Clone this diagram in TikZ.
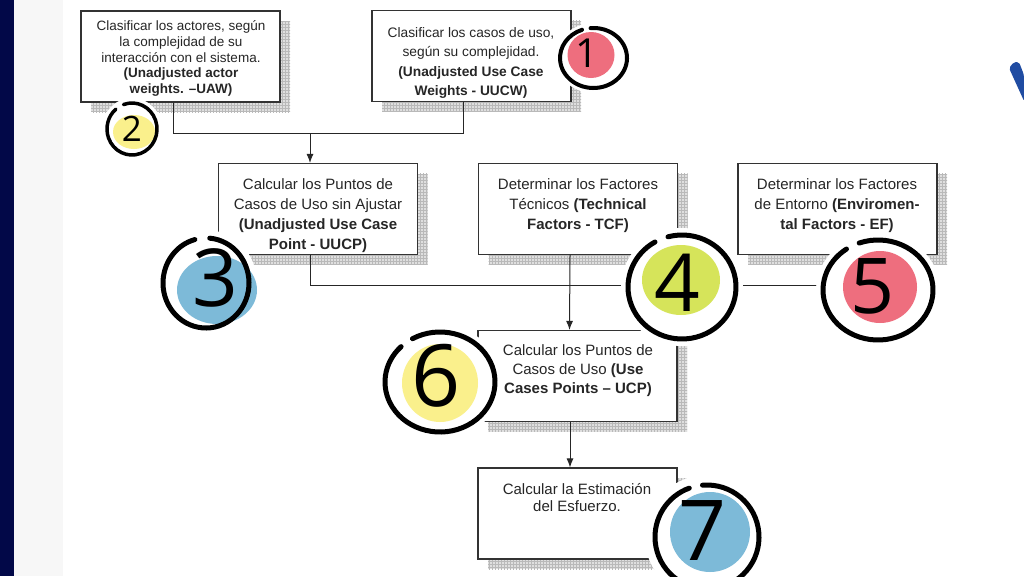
\documentclass[tikz,border=0pt]{standalone}
\usepackage{fontspec}
\setmainfont{Liberation Sans}
\newfontfamily\digitfont{Open Sans}
\usetikzlibrary{arrows.meta,patterns,shadows}
\definecolor{navyband}{RGB}{2,8,72}
\definecolor{paleband}{RGB}{247,247,247}
\definecolor{markred}{RGB}{238,110,126}
\definecolor{markyellow}{RGB}{250,240,140}
\definecolor{markblue}{RGB}{125,186,216}
\definecolor{marklime}{RGB}{214,228,90}
\definecolor{logoblue}{RGB}{32,76,162}

\begin{document}
\begin{tikzpicture}
    [x=1pt,y=-1pt,
     stepbox/.style={rectangle,draw=black!80,line width=1.1pt,fill=white,
       minimum width=199pt,minimum height=91pt,inner sep=0pt,
       general shadow={shadow xshift=10pt,shadow yshift=-10pt,fill=gray!25},
       general shadow={shadow xshift=10pt,shadow yshift=-10pt,pattern=grid,pattern color=gray!55}},
     steptext/.style={align=center,inner sep=0pt,text=black!85,font=\fontsize{15}{20}\selectfont},
     flow/.style={line width=1pt,black!85},
     flowarrow/.style={flow,-{Latex[length=9pt,width=7pt]}},
     halo/.style={fill=white},
     ring/.style={draw=black,line width=5pt,line cap=round},
     digit/.style={inner sep=0pt,text=black,font=\digitfont}]

    \useasboundingbox (0,0) rectangle (1024,576);
    \fill[navyband] (0,0) rectangle (14,576);
    \fill[paleband] (14,0) rectangle (63,576);
    \fill[logoblue,rounded corners=2pt] (1009,68) -- (1014,62) -- (1019,62) -- (1024,75) -- (1024,101) -- cycle;

    % first row
    \node[stepbox] (uaw) at (180.5,56.5) {};
    \node[steptext,font=\fontsize{13.5}{15.8}\selectfont] (uawtext) at (181,58.5)
      {Clasificar los actores, según\\la complejidad de su\\interacción con el sistema.\\\textbf{(Unadjusted actor}\\\textbf{weights. –UAW)}};
    \node[stepbox] (uucw) at (471.5,56) {};
    \node[steptext,font=\fontsize{13.75}{19.4}\selectfont] (uucwtext) at (471,63)
      {Clasificar los casos de uso,\\según su complejidad.\\\textbf{(Unadjusted Use Case}\\\textbf{Weights - UUCW)}};

    % second row
    \node[stepbox] (uucp) at (318,209) {};
    \node[steptext] (uucptext) at (318,215.5)
      {Calcular los Puntos de\\Casos de Uso sin Ajustar\\\textbf{(Unadjusted Use Case}\\\textbf{Point - UUCP)}};
    \node[stepbox] (tcf) at (578,209) {};
    \node[steptext] (tcftext) at (578,205.5)
      {Determinar los Factores\\Técnicos \textbf{(Technical}\\\textbf{Factors - TCF)}};
    \node[stepbox] (ef) at (837.5,209) {};
    \node[steptext] (eftext) at (837,205.5)
      {Determinar los Factores\\de Entorno \textbf{(Enviromen-}\\\textbf{tal Factors - EF)}};

    % third and fourth row
    \node[stepbox] (ucp) at (577.5,376) {};
    \node[steptext,font=\fontsize{15}{19}\selectfont] (ucptext) at (578,371)
      {Calcular los Puntos de\\Casos de Uso \textbf{(Use}\\\textbf{Cases Points – UCP)}};
    \node[stepbox] (effort) at (577.5,513.5) {};
    \node[steptext,font=\fontsize{15}{17}\selectfont] (efforttext) at (577,497.5)
      {Calcular la Estimación\\del Esfuerzo.};

    % connectors
    \coordinate (merge1) at (310,133);
    \draw[flow] ([xshift=-7.5pt]uaw.south) -- ++(0,31) -| ([xshift=-8.5pt]uucw.south);
    \draw[flowarrow] (merge1) -- ([xshift=-8pt]uucp.north);
    \draw[flow] ([xshift=-8pt]uucp.south) -- ++(0,30) -| ([xshift=-8pt]ef.south);
    \draw[flowarrow] ([xshift=-8pt]tcf.south) -- ([xshift=-8pt]ucp.north);
    \draw[flowarrow] ([xshift=-7.5pt]ucp.south) -- ([xshift=-7.5pt]effort.north);

    % numbered marks
    \fill[halo] (593.5,58) ellipse[x radius=38,y radius=35];
    \fill[markred] (591,55) ellipse[x radius=23.5,y radius=23];
    \draw[ring,line width=4pt] (593.5,58) ++(265:33.5 and 30) arc[start angle=265,end angle=610,x radius=33.5,y radius=30];
    \node[digit,font=\digitfont\fontsize{40}{40}\selectfont] (markone) at (587,53) {1};

    \fill[halo] (132,129) ellipse[x radius=30,y radius=31];
    \fill[markyellow] (134,132) ellipse[x radius=21,y radius=17];
    \draw[ring,line width=3.5pt] (132,129) ++(250:25 and 26) arc[start angle=250,end angle=590,x radius=25,y radius=26];
    \node[digit,font=\digitfont\fontsize{35}{35}\selectfont] (marktwo) at (132,129) {2};

    \fill[halo] (206,283) ellipse[x radius=51,y radius=53];
    \fill[markblue] (217,290) ellipse[x radius=40,y radius=34];
    \draw[ring] (206,283) ++(275:43 and 45) arc[start angle=275,end angle=615,x radius=43,y radius=45];
    \node[digit,font=\digitfont\fontsize{80}{80}\selectfont] (markthree) at (215,278) {3};

    \fill[halo] (682,287) ellipse[x radius=61,y radius=59];
    \fill[marklime] (681,280) ellipse[x radius=39,y radius=35];
    \draw[ring] (682,287) ++(255:54 and 52) arc[start angle=255,end angle=600,x radius=54,y radius=52];
    \node[digit,font=\digitfont\fontsize{80}{80}\selectfont] (markfour) at (677,283) {4};

    \fill[halo] (878,290) ellipse[x radius=62,y radius=57];
    \fill[markred] (880,287) ellipse[x radius=37,y radius=36];
    \draw[ring] (878,290) ++(250:55 and 50) arc[start angle=250,end angle=595,x radius=55,y radius=50];
    \node[digit,font=\digitfont\fontsize{77}{77}\selectfont] (markfive) at (872,286) {5};

    \fill[halo] (440,382) ellipse[x radius=62,y radius=57];
    \fill[markyellow] (440,383) ellipse[x radius=38,y radius=39];
    \draw[ring] (440,382) ++(240:55 and 50) arc[start angle=240,end angle=585,x radius=55,y radius=50];
    \node[digit,font=\digitfont\fontsize{86}{86}\selectfont] (marksix) at (436,376) {6};

    \fill[halo] (707,537) ellipse[x radius=62,y radius=62];
    \fill[markblue] (710,532) ellipse[x radius=40,y radius=40];
    \draw[ring] (707,537) ++(265:52 and 52) arc[start angle=265,end angle=610,x radius=52,y radius=52];
    \node[digit,font=\digitfont\fontsize{84}{84}\selectfont] (markseven) at (703,531) {7};

  \end{tikzpicture}
\end{document}
